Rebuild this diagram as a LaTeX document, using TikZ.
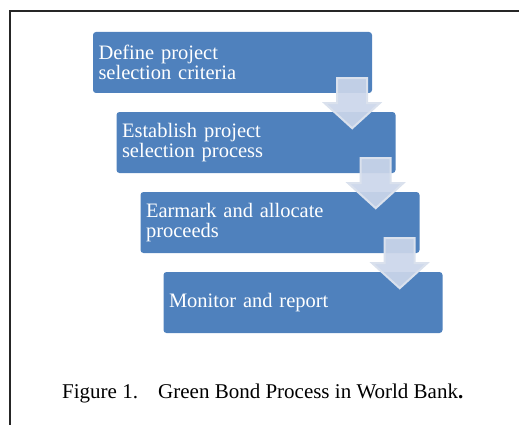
\documentclass[tikz,border=0pt]{standalone}
\usepackage{fontspec}
\setmainfont{Liberation Serif}
\usepackage{tikz}
\usetikzlibrary{calc}
\definecolor{boxblue}{HTML}{4F81BD}
\definecolor{arrowfill}{HTML}{CBD6EA}
\definecolor{arrowedge}{HTML}{DAE1ED}
\tikzstyle{Step}=[rectangle, rounded corners=3pt, fill=boxblue, text=white, minimum width=279pt, minimum height=61pt, text width=268pt, inner sep=5.5pt, align=left, font=\fontsize{20.5}{20}\selectfont]
\tikzstyle{Down}=[fill=arrowfill, draw=arrowedge, line width=2pt, line join=miter, fill opacity=0.92]
\tikzstyle{Caption}=[anchor=base west, inner sep=0pt, font=\fontsize{21}{21}\selectfont]

\begin{document}
\begin{tikzpicture}[x=1pt, y=1pt]
    \useasboundingbox (0,0) rectangle (519,424);
    % frame
    \draw[line width=2pt, black!85] (10,-10) -- (10,413) -- (530,413);

    \path
    (232.5,361.5) node[Step] (define) {Define project\\selection criteria}
    (256,281.5) node[Step] (establish) {Establish project\\selection process}
    (280,201.5) node[Step] (earmark) {Earmark and allocate\\proceeds}
    (303,121.5) node[Step] (monitor) {Monitor and report};

    \foreach \from in {define, establish, earmark}
        \draw[Down] ($(\from.south east)+(-35,15)$) -- ++(30,0) -- ++(0,-25) -- ++(12.5,0)
            -- ++(-27.5,-25) -- ++(-27.5,25) -- ++(12.5,0) -- cycle;

    \path (62,25.7) node[Caption] (figno) {Figure 1.}
    (158,25.7) node[Caption] (title) {Green Bond Process in World Bank\textbf{.}};
\end{tikzpicture}
\end{document}
